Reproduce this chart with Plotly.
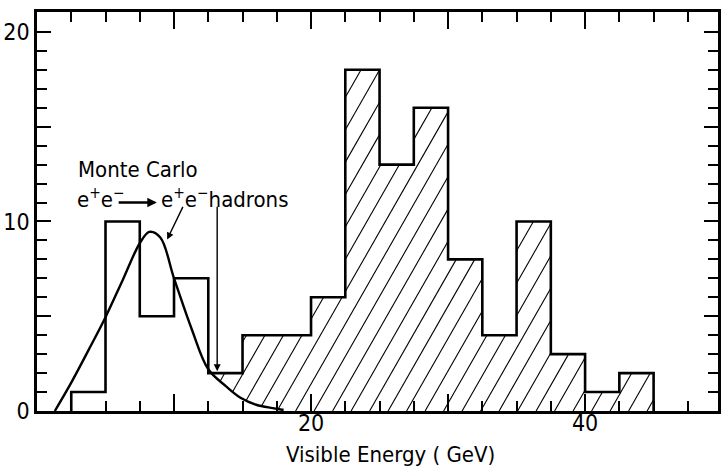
import numpy as np
import plotly.graph_objects as go

# Visible-energy histogram, 2.5 GeV bins
bin_edges = [2.5, 5, 7.5, 10, 12.5, 15, 17.5, 20, 22.5, 25, 27.5, 30,
             32.5, 35, 37.5, 40, 42.5, 45]
counts = [1, 10, 5, 7, 2, 4, 4, 6, 18, 13, 16, 8, 4, 10, 3, 1, 2]

# Monte Carlo expectation for e+e- -> e+e- hadrons
mc_energy = [1.3, 2.5, 3.75, 5.0, 6.25, 7.5, 8.2, 9.0, 10.0,
             11.3, 12.5, 13.8, 14.85, 16.0, 17.2, 18.0]
mc_events = [0, 1.5, 3.2, 4.95, 6.9, 8.85, 9.45, 9.15, 7.0,
             4.3, 2.2, 1.3, 0.7, 0.33, 0.15, 0.05]

# energy cut marked by the vertical arrow; the histogram is hatched above it
cut_energy = 13.15

x_tickvals = [10, 20, 30, 40]
x_ticktext = ["", "20", "", "40"]
y_tickvals = [0, 5, 10, 15, 20]
y_ticktext = ["0", "", "10", "", "20"]

# ---- page geometry ----
W, H = 728, 467
ML, MR, MT, MB = 37, 10, 12, 56
XR = [0, 49.7]
YR = [0, 21.05]
sx = (W - ML - MR) / (XR[1] - XR[0])   # px per GeV
sy = (H - MT - MB) / (YR[1] - YR[0])   # px per event

COND = "DejaVu Sans Condensed, DejaVu Sans, sans-serif"

# ---- hatch lines (about 60 degrees), clipped to histogram above the MC curve ----
edges = np.array(bin_edges, dtype=float)
cnt = np.array(counts, dtype=float)


def hist_height(x):
    idx = np.searchsorted(edges, x, side="right") - 1
    ok = (idx >= 0) & (idx < len(cnt))
    out = np.zeros_like(x)
    out[ok] = cnt[idx[ok]]
    return out


hatch_gap_px = 18.5
hatch_slope_px = 1.75
k = sy / (hatch_slope_px * sx)          # GeV per event along a hatch line
ys = np.arange(0, cnt.max() + 0.01, 0.01)
hx, hy = [], []
c = cut_energy - cnt.max() * k - 0.3
while c < edges[-1]:
    xs = c + ys * k
    floor = np.interp(xs, mc_energy, mc_events, left=0, right=0)
    inside = (xs >= cut_energy) & (xs <= edges[-1]) & (ys <= hist_height(xs)) & (ys >= floor)
    i = 0
    n = len(ys)
    while i < n:
        if inside[i]:
            j = i
            while j + 1 < n and inside[j + 1]:
                j += 1
            hx += [xs[i], xs[j], None]
            hy += [ys[i], ys[j], None]
            i = j + 1
        else:
            i += 1
    c += hatch_gap_px / sx

fig = go.Figure()

fig.add_trace(go.Scatter(x=hx, y=hy, mode="lines",
                         line=dict(color="black", width=1.1),
                         hoverinfo="skip", showlegend=False))

# histogram outline as a step path
step_x = [bin_edges[0]] + bin_edges
step_y = [0] + counts + [0]
fig.add_trace(go.Scatter(x=step_x, y=step_y, mode="lines", line_shape="hv",
                         line=dict(color="black", width=2.6),
                         showlegend=False))

# Monte Carlo curve
fig.add_trace(go.Scatter(x=mc_energy, y=mc_events, mode="lines", line_shape="spline",
                         line=dict(color="black", width=2.4, smoothing=1.0),
                         showlegend=False))

ann = []
ann.append(dict(x=2.85, y=12.75, xref="x", yref="y", text="Monte Carlo",
                showarrow=False, xanchor="left", yanchor="middle",
                font=dict(family=COND, size=22, color="black")))
ann.append(dict(x=2.75, y=11.25, xref="x", yref="y",
                text="e<sup>+</sup>e<sup>\u2212</sup>",
                showarrow=False, xanchor="left", yanchor="middle",
                font=dict(family=COND, size=22, color="black")))
ann.append(dict(x=8.9, y=11.25, xref="x", yref="y",
                text="e<sup>+</sup>e<sup>\u2212</sup>hadrons",
                showarrow=False, xanchor="left", yanchor="middle",
                font=dict(family=COND, size=22, color="black")))
# reaction arrow
ann.append(dict(x=8.75, y=11.0, ax=5.85, ay=11.0, xref="x", yref="y",
                axref="x", ayref="y", text="", showarrow=True,
                arrowhead=2, arrowsize=0.8, arrowwidth=2.4, arrowcolor="black"))
# pointer to the MC curve
ann.append(dict(x=9.5, y=9.05, ax=10.7, ay=10.85, xref="x", yref="y",
                axref="x", ayref="y", text="", showarrow=True,
                arrowhead=2, arrowsize=1.0, arrowwidth=1.4, arrowcolor="black"))
# cut arrow
ann.append(dict(x=cut_energy, y=2.1, ax=cut_energy, ay=10.85, xref="x", yref="y",
                axref="x", ayref="y", text="", showarrow=True,
                arrowhead=2, arrowsize=1.0, arrowwidth=1.4, arrowcolor="black"))
# axis title
ann.append(dict(x=(390 - ML) / (W - ML - MR), y=-(454 - (H - MB)) / (H - MT - MB),
                xref="paper", yref="paper",
                text="Visible Energy ( GeV)", showarrow=False,
                xanchor="center", yanchor="middle",
                font=dict(family=COND, size=22, color="black")))

axis_common = dict(showline=True, linecolor="black", linewidth=2.6, mirror="ticks",
                   ticks="inside", tickcolor="black", showgrid=False, zeroline=False,
                   automargin=False)

fig.update_layout(
    width=W, height=H,
    margin=dict(l=ML, r=MR, t=MT, b=MB, pad=0),
    paper_bgcolor="white", plot_bgcolor="white",
    showlegend=False,
    annotations=ann,
    xaxis=dict(range=XR, tickmode="array", tickvals=x_tickvals, ticktext=x_ticktext,
               ticklen=17, tickwidth=2, ticklabelstandoff=-10,
               minor=dict(dtick=2.5, tick0=0, ticks="inside", ticklen=10,
                          tickwidth=1.6, tickcolor="black", showgrid=False),
               tickfont=dict(family=COND, size=23, color="black"),
               **axis_common),
    yaxis=dict(range=YR, tickmode="array", tickvals=y_tickvals, ticktext=y_ticktext,
               ticklen=14, tickwidth=2,
               minor=dict(dtick=1, tick0=0, ticks="inside", ticklen=10,
                          tickwidth=1.6, tickcolor="black", showgrid=False),
               tickfont=dict(family=COND, size=23, color="black"),
               **axis_common),
)

fig.write_html("out.html")
